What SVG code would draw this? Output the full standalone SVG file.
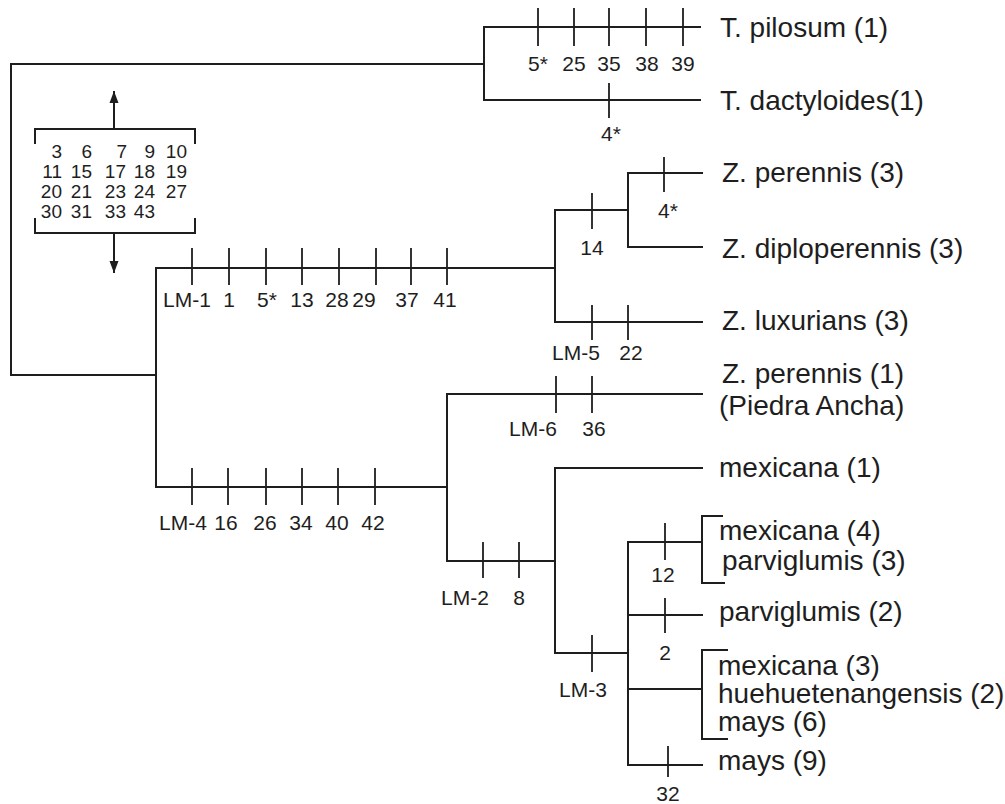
<svg xmlns="http://www.w3.org/2000/svg" width="1005" height="804" viewBox="0 0 1005 804">
<defs>
<style>
.ln{fill:none;stroke:#1e1e1e;stroke-width:2;stroke-linecap:square}
.tk{fill:none;stroke:#1e1e1e;stroke-width:1.8}
.tx{font-family:"Liberation Sans",Arial,sans-serif;font-size:28px;fill:#1e1e1e}
.n{font-family:"Liberation Sans",Arial,sans-serif;font-size:21px;fill:#1e1e1e;text-anchor:middle}
.b{font-family:"Liberation Sans",Arial,sans-serif;font-size:19px;fill:#1e1e1e;text-anchor:end}
</style>
<marker id="ah" viewBox="0 0 12 10" refX="11" refY="5" markerWidth="13" markerHeight="10" markerUnits="userSpaceOnUse" orient="auto">
<path d="M0,0.5 L12,5 L0,9.5 z" fill="#1e1e1e"/>
</marker>
</defs>
<rect width="1005" height="804" fill="#ffffff"/>

<g id="connectors">
<path class="ln" d="M484,64 H11 V375 H156"/>
<path class="ln" d="M700,27 H484 V100 H700"/>
<path class="tk" d="M538,8 V46 M574,8 V46 M609,8 V46 M646,8 V46 M683,8 V46 M609,83 V118"/>
<path class="ln" d="M555,268 H156 V487 H447"/>
<path class="tk" d="M192,248 V285 M229,248 V285 M266,248 V285 M302,248 V285 M339,248 V285 M376,248 V285 M411,248 V285 M447,248 V285"/>
<path class="tk" d="M192,468 V505 M228,468 V505 M266,468 V505 M302,468 V505 M338,468 V505 M375,468 V505"/>
<path class="ln" d="M628,210 H555 V322 H702"/>
<path class="ln" d="M702,173 H628 V247 H702"/>
<path class="tk" d="M592,193 V229 M664,157 V192 M592,305 V340 M628,305 V340"/>
<path class="ln" d="M702,394 H447 V561 H555"/>
<path class="tk" d="M556,376 V413 M592,376 V413 M483,542 V578 M519,542 V578"/>
<path class="ln" d="M702,468 H555 V653 H628"/>
<path class="tk" d="M592,635 V672"/>
<path class="ln" d="M702,542 H628 V765 H702"/>
<path class="ln" d="M628,615 H702 M628,689 H702"/>
<path class="tk" d="M665,523 V560 M665,598 V633 M668,746 V777"/>
<path class="ln" d="M722,516 H702 V583 H724"/>
<path class="ln" d="M727,650 H702 V739 H727"/>
</g>

<g id="character-box">
<path class="ln" d="M35,143 V129 H195 V143"/>
<path class="ln" d="M35,219 V233 H195 V219"/>
<line class="ln" x1="114" y1="129" x2="114" y2="92" marker-end="url(#ah)"/>
<line class="ln" x1="114" y1="233" x2="114" y2="272" marker-end="url(#ah)"/>
<text class="b" y="158"><tspan x="62">3</tspan><tspan x="92">6</tspan><tspan x="127">7</tspan><tspan x="155">9</tspan><tspan x="187">10</tspan></text>
<text class="b" y="178"><tspan x="62">11</tspan><tspan x="92">15</tspan><tspan x="126">17</tspan><tspan x="155">18</tspan><tspan x="187">19</tspan></text>
<text class="b" y="198"><tspan x="62">20</tspan><tspan x="92">21</tspan><tspan x="126">23</tspan><tspan x="155">24</tspan><tspan x="187">27</tspan></text>
<text class="b" y="218"><tspan x="62">30</tspan><tspan x="92">31</tspan><tspan x="126">33</tspan><tspan x="155">43</tspan></text>
</g>

<g id="tick-labels">
<text class="n" y="71"><tspan x="538">5*</tspan><tspan x="574">25</tspan><tspan x="609">35</tspan><tspan x="647">38</tspan><tspan x="683">39</tspan></text>
<text class="n" x="611" y="141">4*</text>
<text class="n" y="307"><tspan x="187">LM-1</tspan><tspan x="229">1</tspan><tspan x="267">5*</tspan><tspan x="302">13</tspan><tspan x="337">28</tspan><tspan x="364">29</tspan><tspan x="407">37</tspan><tspan x="445">41</tspan></text>
<text class="n" x="592" y="255">14</text>
<text class="n" x="668" y="218">4*</text>
<text class="n" y="360"><tspan x="576">LM-5</tspan><tspan x="631">22</tspan></text>
<text class="n" y="436"><tspan x="533">LM-6</tspan><tspan x="594">36</tspan></text>
<text class="n" y="530"><tspan x="183">LM-4</tspan><tspan x="226">16</tspan><tspan x="265">26</tspan><tspan x="301">34</tspan><tspan x="337">40</tspan><tspan x="373">42</tspan></text>
<text class="n" y="605"><tspan x="465">LM-2</tspan><tspan x="519">8</tspan></text>
<text class="n" x="663" y="582">12</text>
<text class="n" x="665" y="660">2</text>
<text class="n" x="583" y="697">LM-3</text>
<text class="n" x="668" y="801">32</text>
</g>

<g id="taxon-t-pilosum"><text class="tx" x="720" y="37">T. pilosum (1)</text></g>
<g id="taxon-t-dactyloides"><text class="tx" x="720" y="110">T. dactyloides(1)</text></g>
<g id="taxon-z-perennis-3"><text class="tx" x="722" y="182">Z. perennis (3)</text></g>
<g id="taxon-z-diploperennis"><text class="tx" x="722" y="258">Z. diploperennis (3)</text></g>
<g id="taxon-z-luxurians"><text class="tx" x="722" y="330">Z. luxurians (3)</text></g>
<g id="taxon-z-perennis-1"><text class="tx" x="722" y="383">Z. perennis (1)</text><text class="tx" x="719" y="415">(Piedra Ancha)</text></g>
<g id="taxon-mexicana-1"><text class="tx" x="719" y="477">mexicana (1)</text></g>
<g id="taxon-group-12"><text class="tx" x="719" y="540">mexicana (4)</text><text class="tx" x="722" y="570">parviglumis (3)</text></g>
<g id="taxon-parviglumis-2"><text class="tx" x="719" y="621">parviglumis (2)</text></g>
<g id="taxon-group-3"><text class="tx" x="718" y="675">mexicana (3)</text><text class="tx" x="718" y="703">huehuetenangensis (2)</text><text class="tx" x="718" y="731">mays (6)</text></g>
<g id="taxon-mays-9"><text class="tx" x="718" y="770">mays (9)</text></g>
</svg>
